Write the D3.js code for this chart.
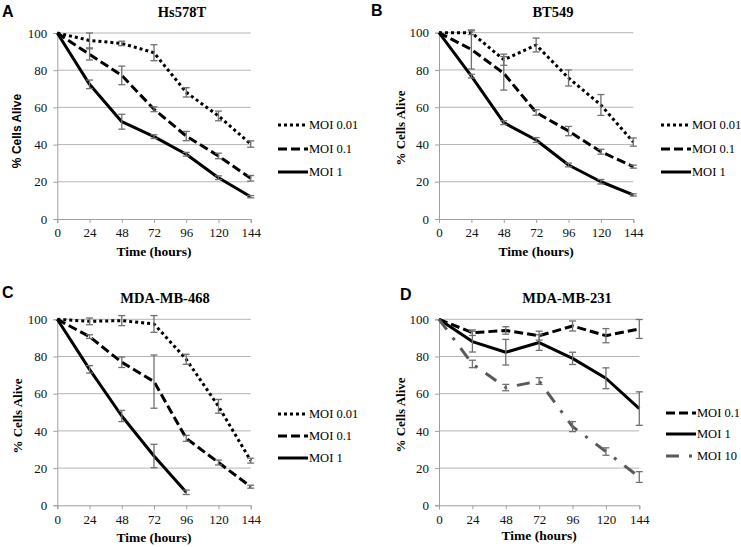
<!DOCTYPE html>
<html>
<head>
<meta charset="utf-8">
<script src="https://cdn.jsdelivr.net/npm/d3@7"></script>
<style>
  body { margin: 0; background: #fff; }
  svg { display: block; }
</style>
</head>
<body>
<svg id="chart" width="741" height="547"></svg>
<script>
// shared axes
const hours = [0, 24, 48, 72, 96, 120, 144];
const yTicks = [0, 20, 40, 60, 80, 100];

// A - Hs578T
const hsMoi001 = [100, 96, 94.4, 89.4, 68.1, 55.4, 40.3];
const hsMoi001Err = [0, 4, 1.2, 4.3, 2.5, 2.6, 1.7];
const hsMoi01 = [100, 88.5, 77.2, 59, 44.6, 33.9, 21.9];
const hsMoi01Err = [0, 3, 5, 1.3, 2.5, 1.5, 1.5];
const hsMoi1 = [100, 72.4, 52.3, 44.3, 34.8, 22.2, 12];
const hsMoi1Err = [0, 2.3, 4, 1, 1, 1, 0.6];

// B - BT549
const btMoi001 = [100, 100, 85.5, 93.4, 75.7, 61.2, 41.3];
const btMoi001Err = [0, 1, 3, 3.7, 4.3, 5.6, 2.2];
const btMoi01 = [100, 91, 78.2, 57.2, 47.2, 36.1, 28.1];
const btMoi01Err = [0, 10.5, 9, 1.5, 2.5, 1.3, 0.8];
const btMoi1 = [100, 76.7, 51.7, 42.4, 29, 20, 12.9];
const btMoi1Err = [0, 1, 1, 1.3, 1, 1.2, 0.6];

// C - MDA-MB-468
const m468Moi001 = [100, 98.9, 99.3, 97.5, 78.5, 53.2, 24];
const m468Moi001Err = [0, 1.8, 2.7, 4.5, 2.7, 3.7, 1.3];
const m468Moi01 = [100, 90.7, 76.9, 66.5, 36, 23, 10];
const m468Moi01Err = [0, 1, 2.8, 14.3, 1.6, 1.3, 0.8];
const m468Moi1 = [100, 73.1, 48, 26.5, 7];
const m468Moi1Err = [0, 2, 3, 6.3, 1.2];

// D - MDA-MB-231
const m231Moi01 = [100, 92.8, 94, 91.2, 96.4, 91.2, 94.8];
const m231Moi01Err = [0, 1.5, 2, 2.4, 2.7, 3.8, 5.1];
const m231Moi1 = [100, 88, 82.3, 87.5, 79, 68.3, 52];
const m231Moi1Err = [0, 5.6, 6.9, 4.2, 3.3, 5.6, 9];
const m231Moi10 = [100, 76, 63.3, 66.8, 42.3, 28.9, 15.2];
const m231Moi10Err = [0, 2, 1.7, 1.8, 2.7, 2, 2.9];

const styles = {
  dot: { color: "#000", dash: "3,3" },
  dash: { color: "#000", dash: "9,4" },
  solid: { color: "#000", dash: null },
  dashdot: { color: "#595959", dash: "13,10,3,10" }
};

const serif = "Liberation Serif, Tinos, Times New Roman, Times, DejaVu Serif, serif";
const sans = "Liberation Sans, Arimo, Arial, sans-serif";

const panels = [
  {
    letter: "A", title: "Hs578T", letterPos: [2, 17], titlePos: [182, 17],
    box: { left: 57.3, right: 250.7, top: 33, bottom: 219 },
    yLabelPos: [17, 131], yLabelFont: sans, yLabelSize: 12,
    xLabelY: 256, legendX: 278, legendY: [125, 149, 172],
    series: [
      { name: "MOI 0.01", values: hsMoi001, err: hsMoi001Err, style: "dot" },
      { name: "MOI 0.1", values: hsMoi01, err: hsMoi01Err, style: "dash" },
      { name: "MOI 1", values: hsMoi1, err: hsMoi1Err, style: "solid" }
    ]
  },
  {
    letter: "B", title: "BT549", letterPos: [371, 16], titlePos: [553, 17],
    box: { left: 439, right: 633.3, top: 32.7, bottom: 219 },
    yLabelPos: [400, 128], yLabelFont: serif, yLabelSize: 13,
    xLabelY: 256, legendX: 661, legendY: [125, 149, 172],
    series: [
      { name: "MOI 0.01", values: btMoi001, err: btMoi001Err, style: "dot" },
      { name: "MOI 0.1", values: btMoi01, err: btMoi01Err, style: "dash" },
      { name: "MOI 1", values: btMoi1, err: btMoi1Err, style: "solid" }
    ]
  },
  {
    letter: "C", title: "MDA-MB-468", letterPos: [2, 298], titlePos: [165, 303],
    box: { left: 57.3, right: 250.7, top: 319.3, bottom: 505.3 },
    yLabelPos: [17, 416], yLabelFont: serif, yLabelSize: 13,
    xLabelY: 542, legendX: 278, legendY: [414, 436, 458],
    series: [
      { name: "MOI 0.01", values: m468Moi001, err: m468Moi001Err, style: "dot" },
      { name: "MOI 0.1", values: m468Moi01, err: m468Moi01Err, style: "dash" },
      { name: "MOI 1", values: m468Moi1, err: m468Moi1Err, style: "solid" }
    ]
  },
  {
    letter: "D", title: "MDA-MB-231", letterPos: [400, 300], titlePos: [567, 303],
    box: { left: 439, right: 639.3, top: 319.3, bottom: 505.3 },
    yLabelPos: [400, 415], yLabelFont: serif, yLabelSize: 13,
    xLabelY: 540, legendX: 666, legendY: [413, 434, 456],
    series: [
      { name: "MOI 0.1", values: m231Moi01, err: m231Moi01Err, style: "dash" },
      { name: "MOI 1", values: m231Moi1, err: m231Moi1Err, style: "solid" },
      { name: "MOI 10", values: m231Moi10, err: m231Moi10Err, style: "dashdot" }
    ]
  }
];

const svg = d3.select("#chart");

panels.forEach(p => {
  const g = svg.append("g");
  const x = d3.scaleLinear().domain([0, 144]).range([p.box.left, p.box.right]);
  const y = d3.scaleLinear().domain([0, 100]).range([p.box.bottom, p.box.top]);

  // gridlines
  g.append("g").selectAll("line")
    .data(yTicks.slice(1))
    .enter().append("line")
    .attr("x1", x(0)).attr("x2", x(144))
    .attr("y1", d => y(d)).attr("y2", d => y(d))
    .attr("stroke", "#b4b4b4").attr("stroke-width", 1);

  // Y axis
  const yAxis = g.append("g")
    .attr("transform", `translate(${x(0)},0)`)
    .call(d3.axisLeft(y).tickValues(yTicks).tickSize(4).tickPadding(6).tickFormat(d3.format("d")));
  // X axis
  const xAxis = g.append("g")
    .attr("transform", `translate(0,${y(0)})`)
    .call(d3.axisBottom(x).tickValues(hours).tickSize(4).tickPadding(5));

  [yAxis, xAxis].forEach(ax => {
    ax.attr("font-family", serif).attr("font-size", 13);
    ax.select(".domain").attr("stroke", "#a0a0a0");
    ax.selectAll(".tick line").attr("stroke", "#a0a0a0");
    ax.selectAll("text").attr("fill", "#111");
  });

  // series lines
  p.series.forEach(s => {
    const st = styles[s.style];
    const pts = s.values.map((v, i) => [hours[i], v, s.err[i]]);
    g.append("path")
      .datum(pts)
      .attr("fill", "none")
      .attr("stroke", st.color)
      .attr("stroke-width", 3)
      .attr("stroke-dasharray", st.dash)
      .attr("stroke-linejoin", "round")
      .attr("d", d3.line().x(d => x(d[0])).y(d => y(d[1])));
  });

  // error bars on top
  p.series.forEach(s => {
    const pts = s.values.map((v, i) => [hours[i], v, s.err[i]]).filter(d => d[2] > 0);
    const eb = g.append("g").selectAll("g")
      .data(pts)
      .enter().append("g")
      .attr("stroke", "#707070")
      .attr("stroke-width", 1.3);
    eb.append("line")
      .attr("x1", d => x(d[0])).attr("x2", d => x(d[0]))
      .attr("y1", d => y(d[1] + d[2])).attr("y2", d => y(d[1] - d[2]));
    eb.append("line")
      .attr("x1", d => x(d[0]) - 3.5).attr("x2", d => x(d[0]) + 3.5)
      .attr("y1", d => y(d[1] + d[2])).attr("y2", d => y(d[1] + d[2]));
    eb.append("line")
      .attr("x1", d => x(d[0]) - 3.5).attr("x2", d => x(d[0]) + 3.5)
      .attr("y1", d => y(d[1] - d[2])).attr("y2", d => y(d[1] - d[2]));
  });

  // panel letter
  svg.append("text")
    .attr("x", p.letterPos[0]).attr("y", p.letterPos[1])
    .attr("font-family", sans).attr("font-weight", "bold").attr("font-size", 16)
    .text(p.letter);

  // title
  svg.append("text")
    .attr("x", p.titlePos[0]).attr("y", p.titlePos[1])
    .attr("text-anchor", "middle")
    .attr("font-family", serif).attr("font-weight", "bold").attr("font-size", 14.5)
    .text(p.title);

  // y label
  svg.append("text")
    .attr("transform", `translate(${p.yLabelPos[0]},${p.yLabelPos[1]}) rotate(-90)`)
    .attr("text-anchor", "middle").attr("dy", "0.35em")
    .attr("font-family", p.yLabelFont).attr("font-weight", "bold").attr("font-size", p.yLabelSize)
    .text("% Cells Alive");

  // x label
  svg.append("text")
    .attr("x", (p.box.left + p.box.right) / 2).attr("y", p.xLabelY)
    .attr("text-anchor", "middle")
    .attr("font-family", serif).attr("font-weight", "bold").attr("font-size", 13.5)
    .text("Time (hours)");

  // legend
  const lg = svg.append("g").selectAll("g")
    .data(p.series)
    .enter().append("g")
    .attr("transform", (d, i) => `translate(${p.legendX},${p.legendY[i]})`);
  lg.append("line")
    .attr("x1", 0).attr("x2", 30).attr("y1", 0).attr("y2", 0)
    .attr("stroke", d => styles[d.style].color)
    .attr("stroke-width", 3)
    .attr("stroke-dasharray", d => styles[d.style].dash);
  lg.append("text")
    .attr("x", 31).attr("y", 0).attr("dy", "0.35em")
    .attr("font-family", serif).attr("font-size", 12.5)
    .text(d => d.name);
});
</script>
</body>
</html>
